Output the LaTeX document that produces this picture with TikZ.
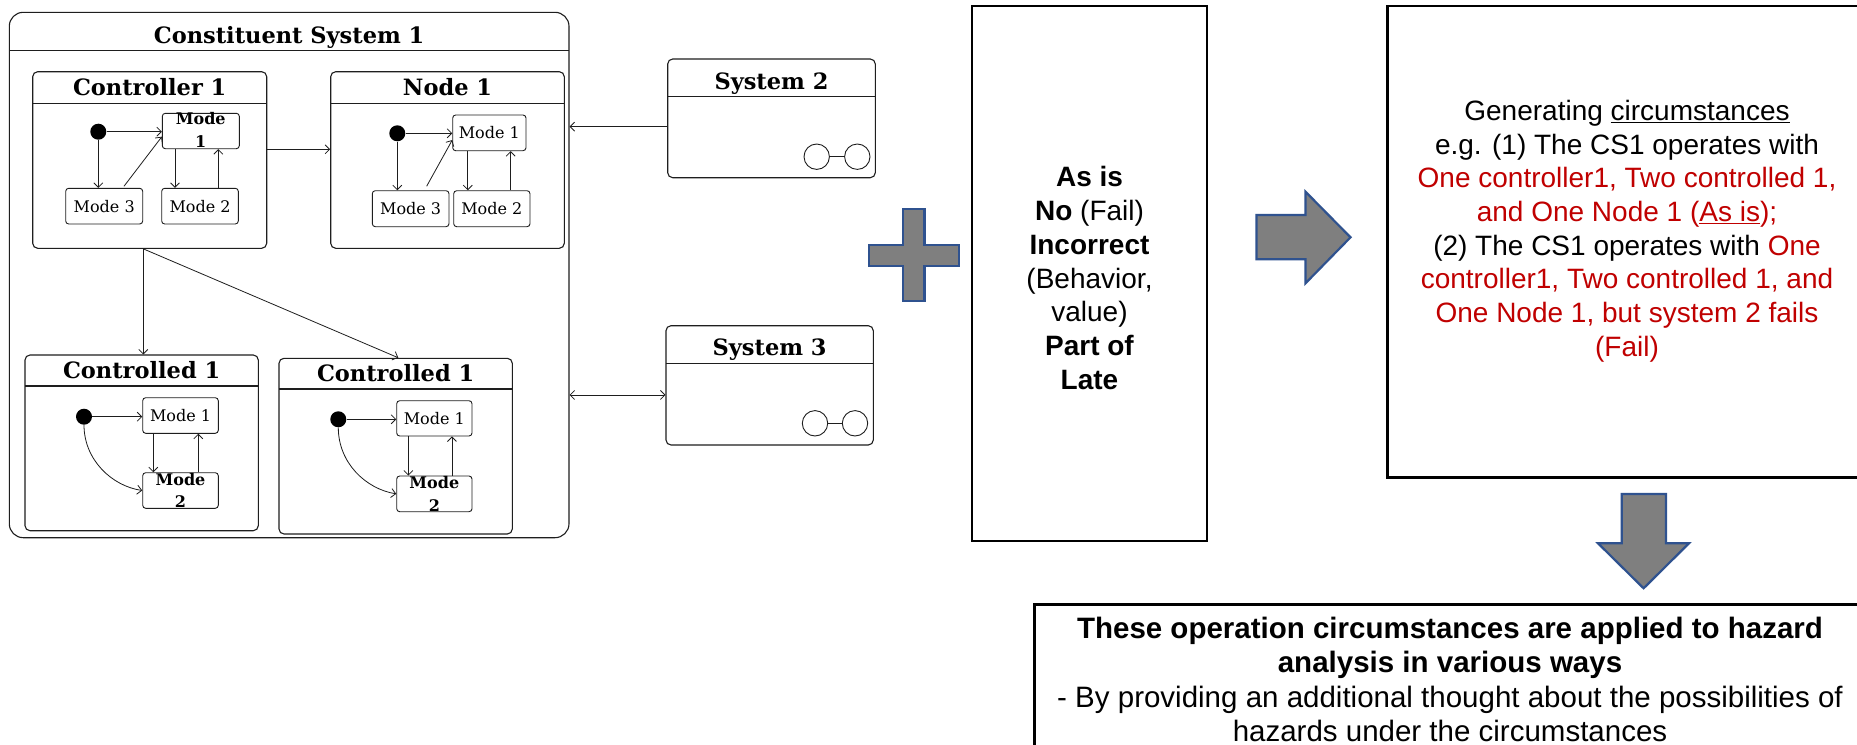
\documentclass[tikz,border=0pt]{standalone}
\usepackage{fontspec}
\setmainfont{DejaVu Serif}
\newfontfamily\arialfont{Liberation Sans}
\usetikzlibrary{arrows.meta,calc}

\definecolor{cRed}{RGB}{192,0,0}
\definecolor{cGrey}{RGB}{127,127,127}
\definecolor{cBlue}{RGB}{47,82,143}
\definecolor{cLine}{RGB}{30,30,30}

% UML state box: [style]{name}{x1}{y1}{x2}{y2}{title separator y}{title}
\newcommand{\ustate}[8][]{%
  \node[statebox,#1,minimum width={(#5)-(#3)},minimum height={(#6)-(#4)}] (#2)
    at ({((#3)+(#5))/2},{((#4)+(#6))/2}) {};
  \draw[sepline] (#3,#7) -- (#5,#7);
  \node[titletext,anchor=base] (#2-title) at ({((#3)+(#5))/2},{(#7)-7.5}) {#8};
}
% simple state: {name}{x1}{y1}{x2}{y2}{text}
\newcommand{\umode}[6]{%
  \node[modebox,minimum width={(#4)-(#2)},minimum height={(#5)-(#3)}] (#1)
    at ({((#2)+(#4))/2},{((#3)+(#5))/2}) {#6};
}

\begin{document}
\begin{tikzpicture}[x=1pt,y=-1pt,
  >={Straight Barb[length=4.5pt,width=9pt]},
  statebox/.style={draw=cLine,line width=1.1pt,rounded corners=5pt,inner sep=0pt},
  sepline/.style={draw=cLine,line width=1.1pt},
  titletext/.style={font=\bfseries\fontsize{22.5}{26}\selectfont,inner sep=0pt},
  modebox/.style={draw=cLine,line width=0.9pt,rounded corners=3pt,inner sep=0pt,
    font=\fontsize{16}{18}\selectfont},
  modebold/.style={font=\bfseries\fontsize{16}{22.4}\selectfont,align=center,inner sep=0pt},
  initdot/.style={circle,fill=black,inner sep=0pt,minimum size=16pt},
  compcircle/.style={circle,draw=cLine,line width=0.9pt,fill=white,inner sep=0pt,minimum size=25.4pt},
  tr/.style={draw=cLine,line width=0.8pt,->},
  trboth/.style={draw=cLine,line width=0.8pt,<->},
  panel/.style={draw=black,line width=2.4pt,inner sep=0pt},
  rtext/.style={font=\arialfont\fontsize{28}{33.7}\selectfont,align=center,inner sep=0pt},
  bluearrow/.style={fill=cGrey,draw=cBlue,line width=2.2pt,line join=miter},
]
\useasboundingbox (0,0) rectangle (1857,744);
\clip (0,0) rectangle (1857,744);
\fill[white] (0,0) rectangle (1857,744);

% ---------- Constituent System 1 ----------
\ustate[rounded corners=14pt]{cs1}{9.3}{12.3}{569}{537.7}{50.7}{Constituent System 1}

% Controller 1
\ustate{ctrl}{32.7}{71.7}{266.7}{248.3}{103.3}{Controller 1}
\node[initdot] (c-i) at (98.3,131.7) {};
\umode{c-m1}{162.3}{113.3}{239.3}{148.7}{}
\node[modebold,yshift=1pt] (c-m1-t) at (c-m1) {Mode\\1};
\umode{c-m3}{65.7}{188.3}{142.7}{224}{Mode 3}
\umode{c-m2}{161.7}{188.3}{238.3}{224}{Mode 2}
\draw[tr] (c-i) -- (c-i -| c-m1.west);
\draw[tr] (c-i) -- (c-i |- c-m3.north);
\draw[tr] ([xshift=19.8pt,yshift=1.6pt]c-m3.north) -- ([yshift=-5.7pt]c-m1.west);
\coordinate (c-d) at ([xshift=-25.8pt]c-m1.south);
\draw[tr] (c-d) -- (c-d |- c-m2.north);
\coordinate (c-u) at ([xshift=18.3pt]c-m2.north);
\draw[tr] (c-u) -- (c-u |- c-m1.south);

% Node 1
\ustate{node1}{330.7}{71.7}{564.3}{248.3}{103.3}{Node 1}
\node[initdot] (n-i) at (397.3,133.3) {};
\umode{n-m1}{452.7}{115}{526}{150.7}{Mode 1}
\umode{n-m3}{372.3}{190.7}{449}{226.7}{Mode 3}
\umode{n-m2}{453.7}{190.7}{530}{226.7}{Mode 2}
\draw[tr] (n-i) -- (n-i -| n-m1.west);
\draw[tr] (n-i) -- (n-i |- n-m3.north);
\draw[tr] ([xshift=16pt,yshift=4pt]n-m3.north) -- ([yshift=-7.2pt]n-m1.west);
\coordinate (n-d) at ([xshift=-21.6pt]n-m1.south);
\draw[tr] (n-d) -- (n-d |- n-m2.north);
\coordinate (n-u) at ([xshift=18.8pt]n-m2.north);
\draw[tr] (n-u) -- (n-u |- n-m1.south);

% Controlled 1 (left)
\ustate{cl}{25}{355}{258.3}{530.7}{386}{Controlled 1}
\node[initdot] (cl-i) at (84,416.7) {};
\umode{cl-m1}{142.7}{397.7}{218.3}{433.3}{Mode 1}
\umode{cl-m2}{142.7}{472.7}{218.3}{508.3}{}
\node[modebold] (cl-m2-t) at (cl-m2) {Mode\\2};
\draw[tr] (cl-i) -- (cl-i -| cl-m1.west);
\draw[tr] (cl-i.south) .. controls (84,460) and (112,486) .. (cl-m2.west);
\coordinate (cl-d) at ([xshift=-27.2pt]cl-m1.south);
\draw[tr] (cl-d) -- (cl-d |- cl-m2.north);
\coordinate (cl-u) at ([xshift=17.8pt]cl-m2.north);
\draw[tr] (cl-u) -- (cl-u |- cl-m1.south);

% Controlled 1 (right)
\ustate{cr}{279}{358.3}{512.3}{534}{389}{Controlled 1}
\node[initdot] (cr-i) at (338.3,419.3) {};
\umode{cr-m1}{396.7}{400.7}{472}{436}{Mode 1}
\umode{cr-m2}{396.7}{476}{472}{511.7}{}
\node[modebold] (cr-m2-t) at (cr-m2) {Mode\\2};
\draw[tr] (cr-i) -- (cr-i -| cr-m1.west);
\draw[tr] (cr-i.south) .. controls (338.3,463) and (366,489) .. (cr-m2.west);
\coordinate (cr-d) at ([xshift=-26pt]cr-m1.south);
\draw[tr] (cr-d) -- (cr-d |- cr-m2.north);
\coordinate (cr-u) at ([xshift=17.6pt]cr-m2.north);
\draw[tr] (cr-u) -- (cr-u |- cr-m1.south);

% links inside the constituent system
\draw[tr] ([yshift=10.7pt]ctrl.east) -- ([yshift=10.7pt]node1.west);
\coordinate (ctrl-b) at ([xshift=-6.4pt]ctrl.south);
\draw[tr] (ctrl-b) -- (ctrl-b |- cl.north);
\draw[tr] (ctrl-b) -- ([xshift=2.6pt]cr.north);

% ---------- external systems ----------
\ustate{sys2}{667.7}{59}{875.3}{177.7}{96.7}{System 2}
\node[compcircle] (s2-a) at (816.7,156.7) {};
\node[compcircle] (s2-b) at (857.3,156.7) {};
\draw[sepline,line width=0.9pt] (s2-a) -- (s2-b);

\ustate{sys3}{666}{325.7}{873.3}{445}{363.3}{System 3}
\node[compcircle] (s3-a) at (815,423.3) {};
\node[compcircle] (s3-b) at (855,423.3) {};
\draw[sepline,line width=0.9pt] (s3-a) -- (s3-b);

\coordinate (s2-p) at ([yshift=-8.3pt]sys2.west);
\draw[tr] (s2-p) -- (s2-p -| cs1.east);
\coordinate (s3-p) at ([yshift=-9.6pt]sys3.west);
\draw[trboth] (s3-p -| cs1.east) -- (s3-p);

% ---------- plus sign ----------
\draw[bluearrow] (903.3,209.3) -- (924.5,209.3) -- (924.5,245) -- (959,245) -- (959,266)
  -- (924.5,266) -- (924.5,301) -- (903.3,301) -- (903.3,266) -- (869.3,266)
  -- (869.3,245) -- (903.3,245) -- cycle;

% ---------- guide words ----------
\node[panel,minimum width=235,minimum height=535.3] (mid) at (1089.5,273.35) {};
\node[rtext] (mid-text) at (1089.5,278)
  {\textbf{As is}\\\textbf{No} (Fail)\\\textbf{Incorrect}\\(Behavior,\\value)\\\textbf{Part of}\\\textbf{Late}};

% ---------- right arrow ----------
\draw[bluearrow] (1256.4,215) -- (1305.5,215) -- (1305.5,191.7) -- (1350.5,237.3)
  -- (1305.5,283.3) -- (1305.5,259.3) -- (1256.4,259.3) -- cycle;

% ---------- circumstances ----------
\node[panel,minimum width=479.5,minimum height=471.6] (circ) at (1627.25,241.5) {};
\node[rtext] (circ-text) at (1627,231)
  {Generating \underline{circumstances}\\
   e.g. (1) The CS1 operates with\\
   \textcolor{cRed}{One controller1, Two controlled 1,}\\
   \textcolor{cRed}{and One Node 1 (\underline{As is});}\\
   (2) The CS1 operates with \textcolor{cRed}{One}\\
   \textcolor{cRed}{controller1, Two controlled 1, and}\\
   \textcolor{cRed}{One Node 1, but system 2 fails}\\
   \textcolor{cRed}{(Fail)}};

% ---------- down arrow ----------
\draw[bluearrow] (1621.7,494) -- (1666,494) -- (1666,543.3) -- (1689,543.3)
  -- (1643.6,588.3) -- (1598,543.3) -- (1621.7,543.3) -- cycle;

% ---------- hazard analysis ----------
\node[panel,minimum width=827.2,minimum height=180] (hz) at (1448,694.3) {};
\node[rtext,font=\arialfont\fontsize{29.5}{34.2}\selectfont] (hz-text) at (1450,679.5)
  {\textbf{These operation circumstances are applied to hazard}\\
   \textbf{analysis in various ways}\\
   - By providing an additional thought about the possibilities of\\
   hazards under the circumstances};
\end{tikzpicture}
\end{document}
